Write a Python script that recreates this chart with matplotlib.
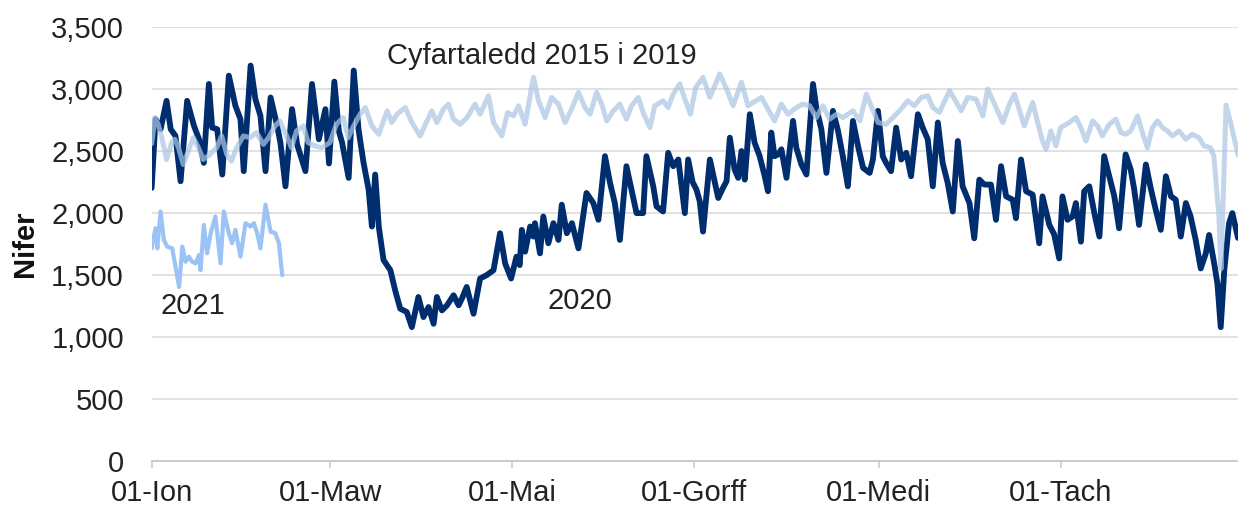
import matplotlib
matplotlib.use("Agg")
import matplotlib.pyplot as plt
from matplotlib.ticker import FuncFormatter

# ---- data (day of year, 0 = 01 Jan) ----
days_2020 = [0, 1.3, 3.0, 5.0, 6.4, 8.0, 9.7, 11.9, 14.2, 15.9, 17.5, 19.2, 20.3, 22.0, 23.7, 25.9,
             28.1, 29.8, 30.9, 33.2, 34.8, 36.5, 38.2, 39.9, 42.1, 43.2, 44.9, 47.1, 48.8, 51.6, 53.8,
             56.1, 58.3, 59.5, 61.3, 62.8, 63.9, 66.1, 67.8, 69.4, 71.1, 72.8, 73.9, 75.0, 76.2, 77.8,
             80.1, 81.7, 83.4, 85.6, 87.3, 89.5, 91.2, 92.9, 94.6, 95.7, 97.4, 99.1, 101.3, 103.0,
             104.1, 105.7, 108.0, 110.2, 112.4, 114.7, 116.9, 118.6, 120.6, 122.4, 123.5, 124.2,
             125.3, 127.0, 128.1, 128.6, 130.3, 131.4, 133.1, 134.8, 136.5, 137.6, 139.3, 141.0,
             143.2, 145.9, 148.2, 149.9, 152.1, 153.8, 155.4, 157.1, 159.3, 161.0, 162.7, 164.9,
             166.0, 168.3, 169.4, 171.6, 173.3, 175.0, 176.7, 178.9, 180.0, 181.5, 182.8, 183.9,
             185.0, 187.3, 189.0, 190.1, 191.7, 192.9, 194.0, 195.6, 196.8, 197.9, 199.0, 200.7,
             202.3, 204.0, 205.7, 206.8, 207.9, 209.0, 210.2, 211.3, 213.0, 215.2, 216.3, 218.0,
             219.7, 221.9, 223.0, 224.7, 226.4, 228.6, 230.3, 231.9, 233.6, 235.3, 237.0, 238.7,
             240.9, 242.0, 243.7, 245.3, 246.4, 248.1, 249.8, 251.5, 253.2, 254.8, 257.1, 258.7,
             260.4, 262.1, 263.8, 265.4, 267.1, 268.8, 270.5, 272.1, 274.4, 276.0, 277.7, 279.4,
             281.6, 283.3, 285.0, 286.7, 288.9, 290.0, 291.7, 293.4, 295.6, 297.8, 298.9, 301.2,
             302.8, 304.5, 305.6, 307.3, 309.0, 310.1, 311.8, 312.9, 314.6, 316.3, 318.0, 319.6,
             321.3, 323.0, 324.6, 326.8, 328.5, 329.6, 331.3, 333.6, 335.2, 336.9, 338.6, 340.3,
             342.0, 343.6, 345.3, 347.0, 348.6, 350.3, 352.0, 353.7, 354.8, 356.5, 357.6, 358.7,
             359.9, 361.5, 362.6, 364.5]
vals_2020 = [2203, 2757, 2676, 2905, 2676, 2622, 2257, 2905, 2703, 2595, 2405, 3041, 2689, 2676, 2311, 3108,
             2865, 2757, 2338, 3189, 2919, 2784, 2338, 2932, 2703, 2568, 2216, 2838, 2554, 2338, 3041,
             2595, 2838, 2400, 3060, 2662, 2568, 2284, 3149, 2676, 2405, 2189, 1892, 2311, 1892, 1622,
             1540, 1378, 1230, 1203, 1081, 1324, 1162, 1243, 1108, 1324, 1216, 1257, 1338, 1257,
             1311, 1405, 1189, 1473, 1500, 1540, 1838, 1595, 1473, 1649, 1581, 1865,
             1689, 1892, 1811, 1919, 1676, 1973, 1757, 1919, 1784, 2068, 1838, 1919,
             1716, 2162, 2081, 1946, 2459, 2243, 2081, 1784, 2378, 2189, 2000, 2000,
             2459, 2216, 2054, 2013, 2486, 2378, 2432, 2000, 2432, 2250, 2189, 2095,
             1851, 2432, 2243, 2122, 2203, 2257, 2608, 2351, 2284, 2500, 2270, 2797,
             2568, 2459, 2297, 2176, 2649, 2459, 2473, 2514, 2284, 2743, 2527, 2392,
             2311, 3041, 2851, 2676, 2324, 2824, 2662, 2459, 2216, 2743, 2541, 2365,
             2324, 2432, 2824, 2459, 2405, 2338, 2689, 2432, 2486, 2297, 2797, 2689,
             2595, 2216, 2730, 2405, 2243, 2013, 2581, 2216, 2081, 1797, 2270, 2230,
             2230, 1946, 2378, 2135, 2108, 1959, 2432, 2176, 2149, 1757, 2135, 1905,
             1830, 1635, 2135, 1946, 1973, 2081, 1770, 2176, 2216, 2000, 1811, 2459,
             2297, 2135, 1878, 2473, 2351, 2203, 1905, 2392, 2203, 2027, 1865, 2297,
             2135, 2108, 1811, 2081, 1973, 1784, 1554, 1676, 1824, 1595, 1432, 1081,
             1541, 1919, 2000, 1800]

days_avg = [0, 1.1, 2.2, 3.4, 5.0, 6.7, 7.8, 9.0, 10.6, 12.3, 14.0, 15.7, 17.3, 19.6, 21.8, 23.5, 25.2,
            26.8, 28.5, 30.8, 33.0, 35.2, 37.5, 39.2, 41.4, 43.0, 45.3, 46.9, 48.6, 50.9, 52.5, 54.8,
            57.0, 59.8, 62.0, 64.3, 66.0, 67.5, 69.9, 71.7, 73.9, 76.2, 79.0, 80.6, 82.3, 85.1, 87.3,
            90.1, 92.4, 94.0, 95.7, 97.9, 99.6, 101.3, 103.5, 105.8, 108.5, 110.2, 113.0, 114.7,
            117.5, 119.4, 121.4, 123.1, 125.3, 128.1, 129.8, 132.0, 134.2, 136.5, 138.7, 140.9,
            143.2, 145.4, 147.1, 149.3, 151.0, 152.7, 154.9, 157.1, 159.3, 161.0, 163.3, 164.9,
            167.2, 168.8, 171.6, 173.3, 175.0, 177.2, 178.9, 180.8, 182.5, 185.0, 187.3, 190.6,
            192.9, 195.1, 197.9, 200.1, 201.8, 204.6, 206.8, 209.0, 211.3, 213.5, 216.3, 218.5,
            220.8, 223.0, 225.2, 227.5, 229.8, 232.0, 235.3, 237.6, 239.8, 241.4, 243.7, 246.4,
            248.7, 250.9, 253.7, 255.9, 258.2, 260.4, 262.1, 264.3, 267.7, 269.4, 271.6, 273.8,
            276.6, 278.9, 280.5, 282.8, 285.6, 287.8, 289.5, 292.8, 295.6, 298.9, 300.1, 301.7,
            303.4, 305.0, 307.9, 310.1, 311.8, 313.5, 315.7, 317.4, 319.0, 321.3, 323.5, 325.2,
            326.8, 328.5, 330.8, 332.4, 334.1, 335.8, 337.5, 339.2, 340.8, 342.5, 344.7, 347.0,
            349.2, 351.4, 353.1, 355.3, 356.4, 358.1, 358.8, 360.5, 362.0, 364.5]
vals_avg = [2560, 2770, 2716, 2608, 2432, 2568, 2595, 2527, 2392, 2500, 2608, 2527, 2432, 2473, 2527, 2622, 2473,
            2419, 2527, 2622, 2608, 2649, 2554, 2608, 2703, 2743, 2622, 2527, 2662, 2703, 2568, 2541,
            2527, 2568, 2716, 2770, 2608, 2690, 2797, 2851, 2703, 2635, 2824, 2730, 2797, 2851, 2730,
            2622, 2743, 2824, 2730, 2838, 2878, 2757, 2716, 2770, 2878, 2797, 2946, 2730,
            2622, 2810, 2784, 2865, 2716, 3095, 2905, 2770, 2932, 2878, 2730, 2838,
            2973, 2851, 2797, 2973, 2878, 2743, 2824, 2878, 2757, 2865, 2932, 2811,
            2689, 2865, 2905, 2851, 2959, 3041, 2919, 2797, 3010, 3095, 2932, 3122,
            3000, 2865, 3054, 2865, 2892, 2932, 2838, 2743, 2878, 2797, 2851, 2878,
            2865, 2770, 2865, 2757, 2797, 2770, 2824, 2743, 2959, 2865, 2730, 2715,
            2770, 2824, 2905, 2865, 2932, 2946, 2851, 2811, 2986, 2919, 2824, 2932,
            2919, 2784, 3000, 2878, 2730, 2878, 2959, 2703, 2892, 2581, 2514, 2662,
            2541, 2689, 2730, 2770, 2689, 2581, 2743, 2703, 2622, 2716, 2757, 2649,
            2635, 2662, 2784, 2649, 2527, 2689, 2743, 2689, 2662, 2622, 2662, 2595,
            2635, 2608, 2541, 2527, 2459, 1973, 1550, 2870, 2730, 2470]

days_2021 = [0, 1.3, 1.9, 3.0, 4.1, 5.2, 6.9, 8.0, 9.2, 10.3, 11.4, 12.5, 13.6, 14.7, 15.9, 16.4, 17.5,
             18.6, 19.8, 21.4, 23.1, 24.2, 25.9, 27.0, 28.1, 29.8, 31.5, 33.2, 34.3, 35.4, 36.5, 38.2,
             39.9, 41.5, 42.7, 43.8]
vals_2021 = [1716, 1878, 1716, 2013, 1784, 1730, 1716, 1568, 1405, 1730, 1608, 1649, 1608, 1595, 1662, 1540, 1905,
             1676, 1838, 1973, 1595, 2013, 1838, 1757, 1865, 1649, 1919, 1892, 1919, 1838, 1716, 2068,
             1851, 1838, 1757, 1500]

tick_days = [0, 60, 121, 182, 244, 305]
tick_labels = ["01-Ion", "01-Maw", "01-Mai", "01-Gorff", "01-Medi", "01-Tach"]

plt.rcParams['font.family'] = ['Liberation Sans', 'DejaVu Sans']
FS = 21

fig = plt.figure(figsize=(12.38, 5.11), dpi=100)
ax = fig.add_axes([0.1225, 0.0973, 0.8775, 0.8499])

ax.plot(days_2020, vals_2020, color='#002d6e', lw=4.2, solid_joinstyle='round',
        solid_capstyle='round', zorder=3)
ax.plot(days_avg, vals_avg, color='#acc6e4', alpha=0.72, lw=3.6, solid_joinstyle='round',
        solid_capstyle='round', zorder=4)
ax.plot(days_2021, vals_2021, color='#9cc3f5', lw=3.0, solid_joinstyle='round',
        solid_capstyle='round', zorder=3)

ax.set_xlim(0, 364.5)
ax.set_ylim(0, 3500)
ax.set_yticks(range(0, 3501, 500))
ax.yaxis.set_major_formatter(FuncFormatter(lambda v, p: f"{int(v):,}"))
ax.set_xticks(tick_days)
ax.set_xticklabels(tick_labels)

ax.grid(axis='y', color='#d9d9d9', lw=1.1, zorder=0)
for s in ['top', 'right', 'left']:
    ax.spines[s].set_visible(False)
ax.spines['bottom'].set_color('#c8c8c8')
ax.spines['bottom'].set_linewidth(1.3)
ax.tick_params(axis='y', length=0, pad=20, labelsize=FS, labelcolor='#222222')
ax.tick_params(axis='x', length=5, width=1.1, color='#c8c8c8', pad=8, labelsize=FS,
               labelcolor='#222222')

ax.set_ylabel("Nifer", fontsize=FS, fontweight='bold', labelpad=9, color='#111111')

ax.text(79, 3270, "Cyfartaledd 2015 i 2019", fontsize=FS, ha='left', va='center', color='#222222')
ax.text(13.8, 1250, "2021", fontsize=FS, ha='center', va='center', color='#222222')
ax.text(143.7, 1290, "2020", fontsize=FS, ha='center', va='center', color='#222222')

fig.savefig("out.png", dpi=100)
